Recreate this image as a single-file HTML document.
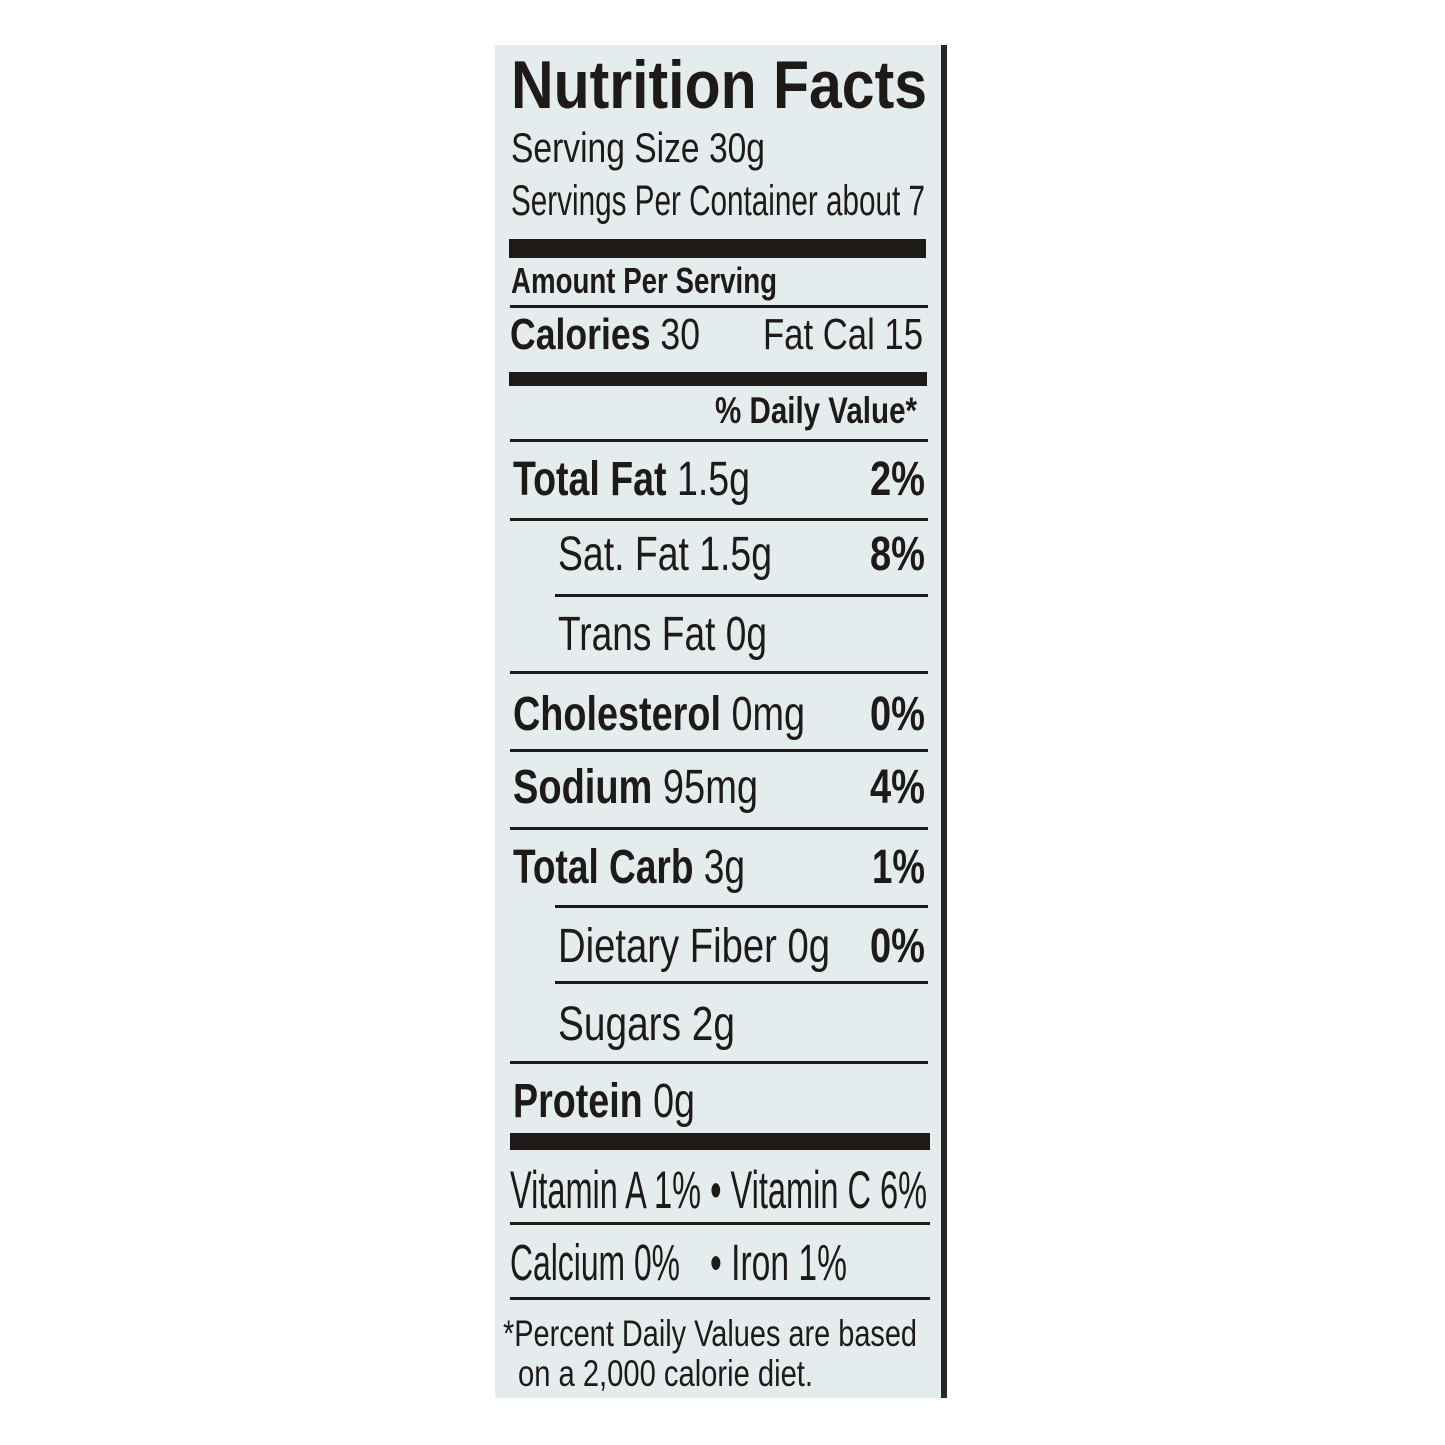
<!DOCTYPE html>
<html><head><meta charset="utf-8"><style>
html,body{margin:0;padding:0;background:#fff;width:1445px;height:1445px;overflow:hidden}
svg{display:block}
text{font-family:"Liberation Sans",sans-serif;fill:#1e1a18}
.b{font-weight:bold}
</style></head><body>
<svg width="1445" height="1445" viewBox="0 0 1445 1445" xmlns="http://www.w3.org/2000/svg">
<rect x="495" y="45" width="450" height="1353" fill="#e5ecee"/>
<rect x="941" y="45" width="6" height="1353" fill="#2a2624"/>
<g fill="#1e1a18">
<rect x="509" y="239" width="417" height="19"/>
<rect x="510" y="305" width="418" height="3"/>
<rect x="509" y="372" width="418" height="14"/>
<rect x="510" y="439" width="418" height="3"/>
<rect x="510" y="518" width="418" height="3"/>
<rect x="555" y="594" width="373" height="3"/>
<rect x="510" y="671" width="418" height="3"/>
<rect x="510" y="749" width="418" height="3"/>
<rect x="510" y="827" width="418" height="3"/>
<rect x="555" y="905" width="373" height="3"/>
<rect x="555" y="981" width="373" height="3"/>
<rect x="510" y="1061" width="418" height="3"/>
<rect x="510" y="1133" width="420" height="17"/>
<rect x="510" y="1222" width="420" height="3"/>
<rect x="510" y="1297" width="420" height="3"/>
</g>
<text class="b" x="511" y="108" font-size="68" textLength="416" lengthAdjust="spacingAndGlyphs">Nutrition Facts</text>
<text x="511" y="162" font-size="42" textLength="254" lengthAdjust="spacingAndGlyphs">Serving Size 30g</text>
<text x="511" y="215" font-size="43" textLength="414" lengthAdjust="spacingAndGlyphs">Servings Per Container about 7</text>
<text class="b" x="511" y="293" font-size="36" textLength="266" lengthAdjust="spacingAndGlyphs">Amount Per Serving</text>
<text x="510" y="349" font-size="44" textLength="190" lengthAdjust="spacingAndGlyphs"><tspan class="b">Calories</tspan> 30</text>
<text x="763" y="349" font-size="44" textLength="160" lengthAdjust="spacingAndGlyphs">Fat Cal 15</text>
<text class="b" x="715" y="423" font-size="37" textLength="202" lengthAdjust="spacingAndGlyphs">% Daily Value*</text>

<text x="513" y="495" font-size="48" textLength="237" lengthAdjust="spacingAndGlyphs"><tspan class="b">Total Fat</tspan> 1.5g</text>
<text class="b" x="870" y="495" font-size="48" textLength="55" lengthAdjust="spacingAndGlyphs">2%</text>
<text x="558" y="570" font-size="48" textLength="214" lengthAdjust="spacingAndGlyphs">Sat. Fat 1.5g</text>
<text class="b" x="870" y="570" font-size="48" textLength="55" lengthAdjust="spacingAndGlyphs">8%</text>
<text x="558" y="650" font-size="48" textLength="209" lengthAdjust="spacingAndGlyphs">Trans Fat 0g</text>
<text x="513" y="730" font-size="48" textLength="292" lengthAdjust="spacingAndGlyphs"><tspan class="b">Cholesterol</tspan> 0mg</text>
<text class="b" x="870" y="730" font-size="48" textLength="55" lengthAdjust="spacingAndGlyphs">0%</text>
<text x="513" y="803" font-size="48" textLength="245" lengthAdjust="spacingAndGlyphs"><tspan class="b">Sodium</tspan> 95mg</text>
<text class="b" x="870" y="803" font-size="48" textLength="55" lengthAdjust="spacingAndGlyphs">4%</text>
<text x="513" y="883" font-size="48" textLength="232" lengthAdjust="spacingAndGlyphs"><tspan class="b">Total Carb</tspan> 3g</text>
<text class="b" x="872" y="883" font-size="48" textLength="53" lengthAdjust="spacingAndGlyphs">1%</text>
<text x="558" y="962" font-size="48" textLength="272" lengthAdjust="spacingAndGlyphs">Dietary Fiber 0g</text>
<text class="b" x="870" y="962" font-size="48" textLength="55" lengthAdjust="spacingAndGlyphs">0%</text>
<text x="558" y="1040" font-size="48" textLength="177" lengthAdjust="spacingAndGlyphs">Sugars 2g</text>
<text x="513" y="1117" font-size="48" textLength="182" lengthAdjust="spacingAndGlyphs"><tspan class="b">Protein</tspan> 0g</text>

<text x="510" y="1208" font-size="53" textLength="417" lengthAdjust="spacingAndGlyphs">Vitamin A 1% • Vitamin C 6%</text>
<text x="510" y="1280" font-size="51" textLength="170" lengthAdjust="spacingAndGlyphs">Calcium 0%</text>
<text x="710" y="1280" font-size="51" textLength="137" lengthAdjust="spacingAndGlyphs">• Iron 1%</text>
<text x="503" y="1346" font-size="37" textLength="414" lengthAdjust="spacingAndGlyphs">*Percent Daily Values are based</text>
<text x="518" y="1386" font-size="37" textLength="295" lengthAdjust="spacingAndGlyphs">on a 2,000 calorie diet.</text>
</svg>
</body></html>
